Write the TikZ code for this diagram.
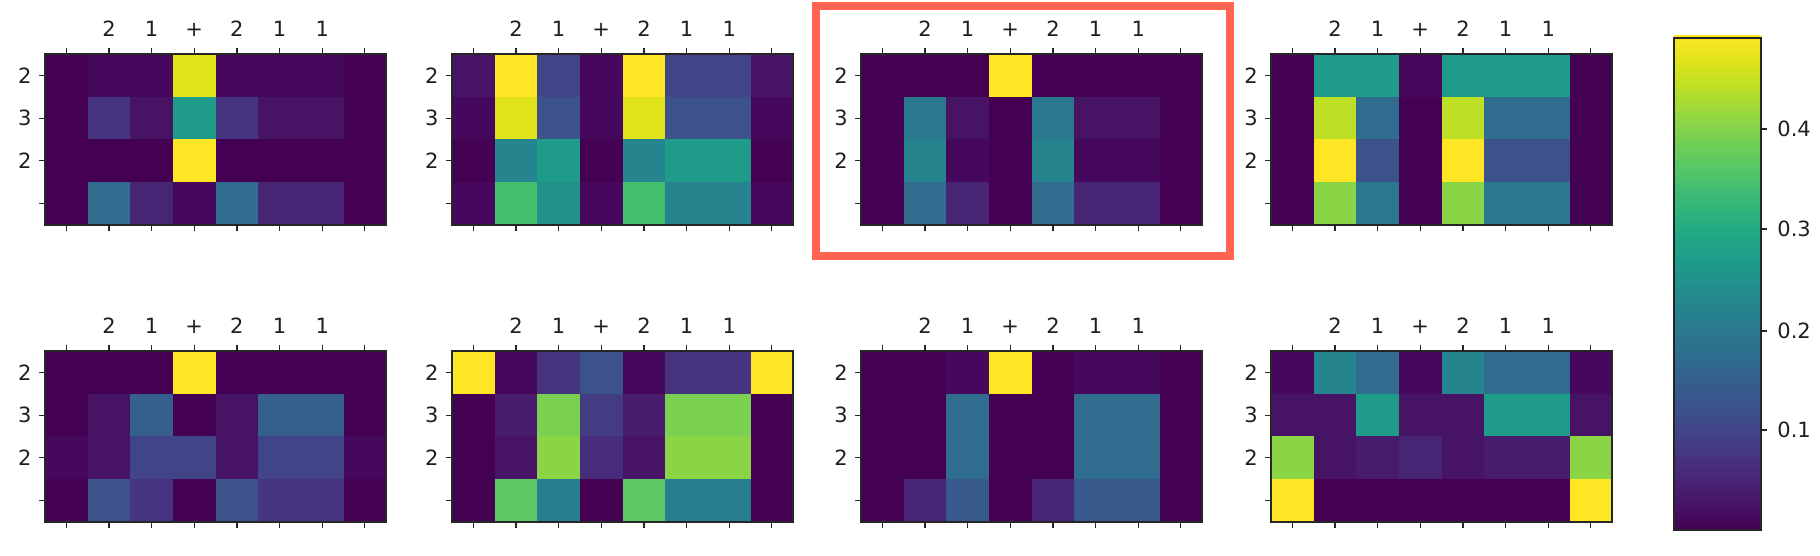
\documentclass[tikz,border=0pt]{standalone}
\usepackage{fontspec}
\setmainfont{DejaVu Sans}

% viridis, 21 steps
\definecolor{v0}{HTML}{440154}
\definecolor{v1}{HTML}{471365}
\definecolor{v2}{HTML}{482475}
\definecolor{v3}{HTML}{463480}
\definecolor{v4}{HTML}{414487}
\definecolor{v5}{HTML}{3B528B}
\definecolor{v6}{HTML}{355F8D}
\definecolor{v7}{HTML}{2F6C8E}
\definecolor{v8}{HTML}{2A788E}
\definecolor{v9}{HTML}{25848E}
\definecolor{v10}{HTML}{21918C}
\definecolor{v11}{HTML}{1E9C89}
\definecolor{v12}{HTML}{22A884}
\definecolor{v13}{HTML}{2FB47C}
\definecolor{v14}{HTML}{44BF70}
\definecolor{v15}{HTML}{5EC962}
\definecolor{v16}{HTML}{7AD151}
\definecolor{v17}{HTML}{9BD93C}
\definecolor{v18}{HTML}{BDDF26}
\definecolor{v19}{HTML}{DFE318}
\definecolor{v20}{HTML}{FDE725}
\definecolor{vh}{HTML}{46085C}
\definecolor{framegray}{HTML}{262626}
\definecolor{hilite}{HTML}{FF6550}

% #1 name, #2 x, #3 y (top left), #4 rows
\newcommand{\heatmap}[4]{%
  \foreach \row [count=\r] in {#4}{
    \foreach \c [count=\k] in \row{
      \fill[fill=\c] ({#2+(\k-1)*42.65},{#3-(\r-1)*42.75}) rectangle ++(42.65,-42.75);
    }
  }
  \foreach \k in {1,...,8}{
    \draw[axistick] ({#2+(\k-0.5)*42.65},#3) -- ++(0,6);
    \draw[axistick] ({#2+(\k-0.5)*42.65},{#3-171}) -- ++(0,-6);
  }
  \foreach \r in {1,...,4}
    \draw[axistick] (#2,{#3-(\r-0.5)*42.75}) -- ++(-6,0);
  \foreach \lab [count=\k from 2] in {2,1,+,2,1,1}
    \node[anchor=base] (#1-top\k) at ({#2+(\k-0.5)*42.65},{#3+17}) {\lab};
  \foreach \lab [count=\r] in {2,3,2}
    \node[anchor=east] (#1-left\r) at ({#2-13},{#3-(\r-0.5)*42.75}) {\lab};
  \draw[axisframe] (#2,#3) rectangle ++(341.2,-171);
}

\begin{document}
\begin{tikzpicture}[x=0.5pt,y=0.5pt,
  every node/.style={font=\fontsize{10.5}{12}\selectfont,text=black!88,inner sep=0pt},
  axistick/.style={draw=framegray,line width=0.6pt},
  axisframe/.style={draw=framegray,line width=1pt}]

\useasboundingbox (0,0) rectangle (1820,556);

% top row
\heatmap{p1}{45}{502}{{v0,vh,vh,v19,vh,vh,vh,v0},
  {v0,v3,v1,v11,v3,v1,v1,v0},
  {v0,v0,v0,v20,v0,v0,v0,v0},
  {v0,v7,v2,vh,v7,v2,v2,v0}}
\heatmap{p2}{452}{502}{{v1,v20,v4,vh,v20,v4,v4,v1},
  {vh,v19,v5,vh,v19,v5,v5,vh},
  {v0,v9,v11,v0,v9,v11,v11,v0},
  {vh,v14,v10,vh,v14,v9,v9,vh}}
\heatmap{p3}{861}{502}{{v0,v0,v0,v20,v0,v0,v0,v0},
  {v0,v8,v1,v0,v8,v1,v1,v0},
  {v0,v9,vh,v0,v9,vh,vh,v0},
  {v0,v7,v2,v0,v7,v2,v2,v0}}
\heatmap{p4}{1271}{502}{{v0,v11,v11,vh,v11,v11,v11,v0},
  {v0,v18,v7,v0,v18,v7,v7,v0},
  {v0,v20,v5,v0,v20,v5,v5,v0},
  {v0,v16!50!v17,v8,v0,v16!50!v17,v8,v8,v0}}

% bottom row
\heatmap{p5}{45}{205}{{v0,v0,v0,v20,v0,v0,v0,v0},
  {v0,v1,v6,v0,v1,v6,v6,v0},
  {vh,v1,v4,v4,v1,v4,v4,vh},
  {v0,v5,v3,v0,v5,v3,v3,v0}}
\heatmap{p6}{452}{205}{{v20,vh,v3,v5,vh,v3,v3,v20},
  {v0,v1!50!v2,v16,v3!50!v4,v1!50!v2,v16,v16,v0},
  {v0,v1,v16!50!v17,v2!50!v3,v1,v16!50!v17,v16!50!v17,v0},
  {v0,v15,v8!50!v9,v0,v15,v8!50!v9,v8!50!v9,v0}}
\heatmap{p7}{861}{205}{{v0,v0,vh,v20,v0,vh,vh,v0},
  {v0,v0,v7,v0,v0,v7,v7,v0},
  {v0,v0,v7,v0,v0,v7,v7,v0},
  {v0,v2,v5!50!v6,v0,v2,v5!50!v6,v5!50!v6,v0}}
\heatmap{p8}{1271}{205}{{vh,v9,v7,vh,v9,v7,v7,vh},
  {v1,v1,v11,v1,v1,v11,v11,v1},
  {v16!50!v17,v1,v1!50!v2,v2,v1,v1!50!v2,v1!50!v2,v16!50!v17},
  {v20,v0,v0,v0,v0,v0,v0,v20}}

% highlight
\draw[hilite,line width=4pt] (816,550) rectangle (1230,300);

% colour bar
\foreach \i in {0,...,19}{
  \pgfmathtruncatemacro{\j}{\i+1}
  \shade[bottom color=v\i,top color=v\j] (1674,{26+\i*24.6}) rectangle (1761,{26+(\i+1)*24.7});
}
\draw[axisframe] (1674,26) rectangle (1761,518);
\foreach \v/\yy [count=\n] in {0.1/126,0.2/225,0.3/327,0.4/427}{
  \draw[axistick] (1761,\yy) -- ++(6,0);
  \node[anchor=west] (bar\n) at (1777,\yy) {\v};
}
\end{tikzpicture}
\end{document}
